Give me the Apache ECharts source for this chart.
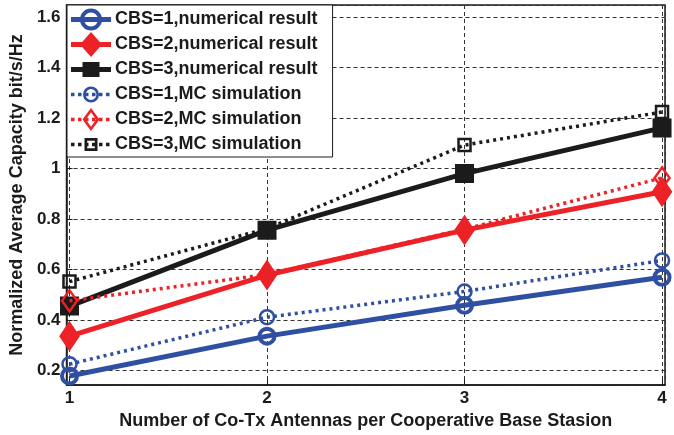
<!DOCTYPE html>
<html>
<head>
<meta charset="utf-8">
<script src="https://cdn.jsdelivr.net/npm/echarts@6/dist/echarts.min.js"></script>
<style>
  html, body { margin: 0; padding: 0; background: #fff; }
  #chart { width: 674px; height: 435px; }
</style>
</head>
<body>
<div id="chart"></div>
<script>
// Antennas per cooperative base station
const antennas = [1, 2, 3, 4];

// Normalized average capacity (bit/s/Hz)
const cbs1Numerical = [0.178, 0.336, 0.458, 0.569];
const cbs2Numerical = [0.336, 0.578, 0.756, 0.908];
const cbs3Numerical = [0.455, 0.756, 0.980, 1.161];
const cbs1Simulation = [0.225, 0.411, 0.513, 0.636];
const cbs2Simulation = [0.476, 0.580, 0.760, 0.963];
const cbs3Simulation = [0.552, 0.762, 1.093, 1.224];

const seriesNames = [
  'CBS=1,numerical result',
  'CBS=2,numerical result',
  'CBS=3,numerical result',
  'CBS=1,MC simulation',
  'CBS=2,MC simulation',
  'CBS=3,MC simulation'
];

const BLUE = '#2f4fa2';
const RED = '#ec2227';
const BLACK = '#1b1b1b';
const FONT = '"Liberation Sans", Arial, sans-serif';

const SOLID_W = 5;
const DOT_W = 3.5;
const DOT_DASH = [3, 4];

function pairs(values) {
  return antennas.map((a, i) => [a, values[i]]);
}

function numerical(name, values, color, symbol, size, filled) {
  return {
    name, type: 'line', data: pairs(values), z: 3,
    symbol, symbolSize: size,
    lineStyle: { color, width: SOLID_W, type: 'solid' },
    itemStyle: { color: filled ? color : 'rgba(255,255,255,0)', borderColor: color, borderWidth: 4 },
    emphasis: { disabled: true }, animation: false
  };
}

function simulation(name, values, color, symbol, size) {
  return {
    name, type: 'line', data: pairs(values), z: 4,
    symbol, symbolSize: size,
    lineStyle: { color, width: DOT_W, type: DOT_DASH },
    itemStyle: { color: 'rgba(255,255,255,0)', borderColor: color, borderWidth: 2.5 },
    emphasis: { disabled: true }, animation: false
  };
}

// ---- Legend glyphs: line sample + marker, drawn as one filled path in a 40x25 box ----
const ICON_W = 40, ICON_H = 25, CY = 12.5, CX = 20;
const frame = `M0 0 L0 0 Z M${ICON_W} ${ICON_H} L${ICON_W} ${ICON_H} Z `;

function solidBar(w) {
  return `M0 ${CY - w / 2} L${ICON_W} ${CY - w / 2} L${ICON_W} ${CY + w / 2} L0 ${CY + w / 2} Z `;
}
function dotBar(w, period) {
  let p = '';
  for (let x = 0; x + w <= ICON_W + 0.01; x += period) {
    p += `M${x} ${CY - w / 2} L${x + w} ${CY - w / 2} L${x + w} ${CY + w / 2} L${x} ${CY + w / 2} Z `;
  }
  return p;
}
function ring(r, t) {
  const ri = r - t;
  return `M${CX + r} ${CY} A${r} ${r} 0 1 1 ${CX - r} ${CY} A${r} ${r} 0 1 1 ${CX + r} ${CY} Z ` +
         `M${CX + ri} ${CY} A${ri} ${ri} 0 1 0 ${CX - ri} ${CY} A${ri} ${ri} 0 1 0 ${CX + ri} ${CY} Z `;
}
function diamond(hw, hh, cw) {
  // clockwise when cw is true, counter-clockwise otherwise
  return cw
    ? `M${CX} ${CY - hh} L${CX + hw} ${CY} L${CX} ${CY + hh} L${CX - hw} ${CY} Z `
    : `M${CX} ${CY - hh} L${CX - hw} ${CY} L${CX} ${CY + hh} L${CX + hw} ${CY} Z `;
}
function square(hw, hh, cw) {
  return cw
    ? `M${CX - hw} ${CY - hh} L${CX + hw} ${CY - hh} L${CX + hw} ${CY + hh} L${CX - hw} ${CY + hh} Z `
    : `M${CX - hw} ${CY - hh} L${CX - hw} ${CY + hh} L${CX + hw} ${CY + hh} L${CX + hw} ${CY - hh} Z `;
}

const legendIcons = [
  frame + solidBar(SOLID_W) + ring(11, 4),
  frame + solidBar(SOLID_W) + diamond(11, 12.5, true),
  frame + solidBar(SOLID_W) + square(8.5, 7.5, true),
  frame + dotBar(3.5, 7) + ring(8, 2.6),
  frame + dotBar(3.5, 7) + diamond(8.5, 11.5, true) + diamond(5.2, 7.3, false),
  frame + dotBar(3.5, 7) + square(6.5, 6.5, true) + square(3.8, 3.8, false)
];
const legendColors = [BLUE, RED, BLACK, BLUE, RED, BLACK];

const legendData = seriesNames.map((name, i) => ({
  name,
  icon: 'path://' + legendIcons[i],
  itemStyle: { color: legendColors[i], borderWidth: 0, opacity: 1 }
}));

const gridLine = { show: true, lineStyle: { color: '#333', width: 1, type: [4, 3] } };
const isMultiple = (v, step) => Math.abs(v / step - Math.round(v / step)) < 1e-6;

const chart = echarts.init(document.getElementById('chart'), null, { renderer: 'canvas' });
chart.setOption({
  backgroundColor: '#fff',
  animation: false,
  grid: {
    left: 66, right: 9, top: 5, bottom: 42,
    show: true, borderColor: BLACK, borderWidth: 1.5, backgroundColor: 'transparent'
  },
  legend: {
    data: legendData,
    orient: 'vertical',
    left: 67, top: 5,
    backgroundColor: '#fff',
    borderColor: BLACK, borderWidth: 1, borderRadius: 0,
    padding: [2, 15, 0, 4],
    itemWidth: ICON_W, itemHeight: ICON_H, itemGap: 0,
    symbolKeepAspect: true,
    textStyle: { fontFamily: FONT, fontWeight: 'bold', fontSize: 18, color: BLACK, padding: [0, 0, 0, -1] },
    selectedMode: false
  },
  xAxis: {
    type: 'value', min: 0.985, max: 4.015, splitNumber: 3,
    name: 'Number of Co-Tx Antennas per Cooperative Base Stasion',
    nameLocation: 'middle', nameGap: 20,
    nameTextStyle: { fontFamily: FONT, fontWeight: 'bold', fontSize: 18, color: BLACK },
    axisLine: { onZero: false, lineStyle: { color: BLACK, width: 1.5 } },
    axisTick: { inside: true, length: 6, lineStyle: { color: BLACK } },
    axisLabel: {
      margin: 5, fontFamily: FONT, fontWeight: 'bold', fontSize: 17, color: BLACK,
      showMinLabel: false, showMaxLabel: false,
      formatter: v => isMultiple(v, 1) ? String(Math.round(v)) : ''
    },
    splitLine: gridLine
  },
  yAxis: {
    type: 'value', min: 0.142, max: 1.648, splitNumber: 7,
    name: 'Normalized Average Capacity bit/s/Hz',
    nameLocation: 'middle', nameGap: 39,
    nameTextStyle: { fontFamily: FONT, fontWeight: 'bold', fontSize: 18, color: BLACK },
    axisLine: { onZero: false, lineStyle: { color: BLACK, width: 1.5 } },
    axisTick: { inside: true, length: 6, lineStyle: { color: BLACK } },
    axisLabel: {
      margin: 6, fontFamily: FONT, fontWeight: 'bold', fontSize: 17, color: BLACK,
      showMinLabel: false, showMaxLabel: false,
      formatter: v => isMultiple(v, 0.2) ? String(Math.round(v * 10) / 10) : ''
    },
    splitLine: gridLine
  },
  series: [
    numerical(seriesNames[0], cbs1Numerical, BLUE, 'circle', 15, false),
    numerical(seriesNames[1], cbs2Numerical, RED, 'diamond', [16, 24], true),
    numerical(seriesNames[2], cbs3Numerical, BLACK, 'rect', 15, true),
    simulation(seriesNames[3], cbs1Simulation, BLUE, 'circle', 14),
    simulation(seriesNames[4], cbs2Simulation, RED, 'diamond', [15, 21]),
    simulation(seriesNames[5], cbs3Simulation, BLACK, 'rect', 12)
  ]
});
</script>
</body>
</html>
